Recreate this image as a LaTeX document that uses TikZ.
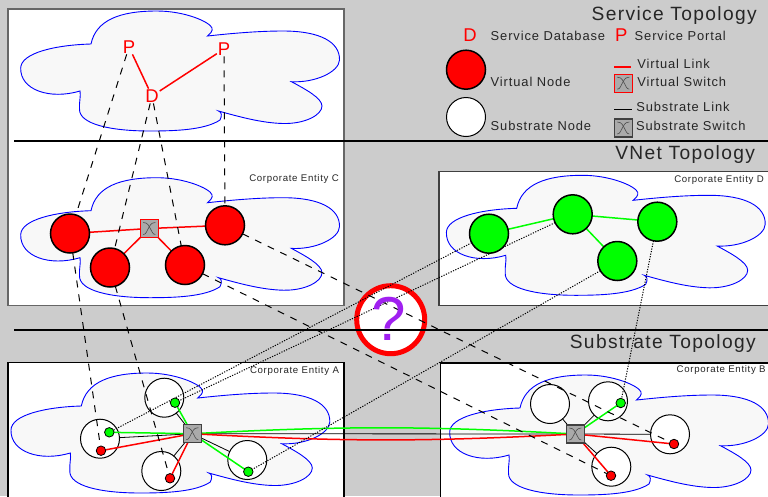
\documentclass[tikz,border=0pt]{standalone}
\usepackage{fontspec}
\setmainfont[LetterSpace=7]{Liberation Sans}
\usetikzlibrary{backgrounds}
\pgfdeclarelayer{linklayer}
\pgfsetlayers{background,linklayer,main}
\definecolor{paneColor}{RGB}{204,204,204}
\definecolor{cloudColor}{RGB}{248,248,248}
\definecolor{switchColor}{RGB}{170,170,170}
\definecolor{purpleColor}{RGB}{160,32,240}
\tikzset{
  panel/.style={draw=#1,fill=white,line width=1.2pt},
  rule/.style={draw=black,line width=2pt},
  cloud/.style={draw=blue,fill=cloudColor,line width=0.9pt},
  vnode/.style={circle,draw=black,line width=1.5pt,fill=#1,minimum size=39pt,inner sep=0pt,outer sep=0pt},
  snode/.style={circle,draw=black,line width=1pt,fill=white,minimum size=39pt,inner sep=0pt,outer sep=0pt},
  slot/.style={circle,draw=black,line width=0.8pt,fill=#1,minimum size=9.5pt,inner sep=0pt,outer sep=0pt},
  switchbox/.style={rectangle,draw=#1,line width=1.3pt,fill=switchColor,minimum size=18pt,inner sep=0pt,outer sep=0pt,
    path picture={
      \draw[black!70,line width=0.6pt] ([xshift=-6pt,yshift=6pt]path picture bounding box.center)
        .. controls +(5pt,0pt) and +(-1.5pt,2pt) .. ([xshift=1pt]path picture bounding box.center)
        .. controls +(1.5pt,-2pt) and +(-3pt,0pt) .. ([xshift=6pt,yshift=-6pt]path picture bounding box.center);
      \draw[black!70,line width=0.6pt] ([xshift=6pt,yshift=6pt]path picture bounding box.center)
        .. controls +(-5pt,0pt) and +(1.5pt,2pt) .. ([xshift=-1pt]path picture bounding box.center)
        .. controls +(-1.5pt,-2pt) and +(3pt,0pt) .. ([xshift=-6pt,yshift=-6pt]path picture bounding box.center);
    }},
  service/.style={text=red,font=\fontsize{18.5}{18.5}\selectfont,inner sep=1pt,outer sep=0pt},
  title/.style={anchor=base east,inner sep=0pt,outer sep=0pt,text=black!85,font=\fontsize{19.2}{20}\selectfont},
  legend/.style={anchor=base west,inner sep=0pt,outer sep=0pt,text=black!85,font=\fontsize{12.9}{14}\selectfont},
  entity/.style={anchor=base west,inner sep=0pt,outer sep=0pt,text=black!85,font=\fontsize{9.65}{11}\selectfont},
  vlink/.style={draw=red,line width=1.5pt},
  glink/.style={draw=green,line width=1.5pt},
  slink/.style={draw=black,line width=0.8pt},
  mapdash/.style={draw=black,line width=1pt,dash pattern=on 7pt off 7pt},
  mapdot/.style={draw=black,line width=1pt,dash pattern=on 1.2pt off 1.4pt},
}
\newcommand{\cloudshape}[2]{%
\begin{scope}[shift={(#1,#2)}]
\path[cloud] (91,44) .. controls (96,20) and (120,11) .. (157,11)
	.. controls (185,11) and (210,22) .. (212,28)
	.. controls (213,31) and (210,34) .. (207.5,36)
	.. controls (235,33) and (260,31) .. (283,31)
	.. controls (320,31) and (340,42) .. (339.5,60)
	.. controls (339,72) and (315,83) .. (291.5,81.7)
	.. controls (305,89) and (322,98) .. (322,106)
	.. controls (322,115) and (305,124) .. (283,123.5)
	.. controls (262,123) and (240,117) .. (218.5,111)
	.. controls (222,112) and (222,116) .. (220,120)
	.. controls (205,130) and (175,131) .. (150,131)
	.. controls (110,131) and (79,124) .. (79.5,109)
	.. controls (79,102) and (81,96) .. (80,91)
	.. controls (50,100) and (20,90) .. (20.7,68)
	.. controls (21,53) and (55,45) .. (91,44)
	-- cycle;
\end{scope}}
\begin{document}
\begin{tikzpicture}[x=1pt,y=-1pt]
\useasboundingbox (0,0) rectangle (768,496);

\begin{pgfonlayer}{background}
\path[fill=paneColor] (0,0) rectangle (768,496);
\path[panel=black!60] (8,9) rectangle (344,305.5);
\path[panel=black!75] (439,171.5) rectangle (770,305.5);
\path[panel=black] (8,362.5) rectangle (344,498);
\path[panel=black] (440.5,363) rectangle (770,498);
\cloudshape{0}{0}
\cloudshape{0}{166.7}
\cloudshape{425.7}{164.3}
\cloudshape{-9.7}{362}
\cloudshape{429}{364}
\node[circle,draw=red,line width=5pt,fill=white,minimum size=68pt,inner sep=0pt,outer sep=0pt] (unknown) at (390.7,319.7) {};

% substrate
\node[snode] (sa1) at (100,438.7) {};
\node[snode] (sa2) at (164.3,397.7) {};
\node[snode] (sa3) at (161.3,471) {};
\node[snode] (sa4) at (247.3,460) {};
\node[snode] (sb1) at (550,404) {};
\node[snode] (sb2) at (608,401.3) {};
\node[snode] (sb3) at (670,434.3) {};
\node[snode] (sb4) at (611.3,466.7) {};
\end{pgfonlayer}

% switches and slots
\node[switchbox=black!75] (swa) at (192.3,433.7) {};
\node[switchbox=black!75] (swb) at (575.3,434) {};
\node[switchbox=red] (swc) at (149.3,228.5) {};
\node[slot=green] (ga1) at (109.3,432.3) {};
\node[slot=red] (ra1) at (101,450.7) {};
\node[slot=green] (ga2) at (175,402.7) {};
\node[slot=red] (ra3) at (170,478.3) {};
\node[slot=green] (ga4) at (248.3,471.7) {};
\node[slot=green] (gb2) at (620.7,403) {};
\node[slot=red] (rb3) at (674,444) {};
\node[slot=red] (rb4) at (611,475.7) {};

% virtual nodes
\node[vnode=red] (c1) at (70,233.5) {};
\node[vnode=red] (c2) at (110,267.5) {};
\node[vnode=red] (c3) at (185,265) {};
\node[vnode=red] (c4) at (225,225.3) {};
\node[vnode=green] (d1) at (489,233.7) {};
\node[vnode=green] (d2) at (572.7,214.3) {};
\node[vnode=green] (d3) at (657.3,221.7) {};
\node[vnode=green] (d4) at (617.3,261) {};

% service
\node[service] (p1) at (129,47) {P};
\node[service] (p2) at (224,49) {P};
\node[service] (db) at (152,96) {D};

\begin{pgfonlayer}{linklayer}
\path[rule] (14,141) -- (768,141);
\path[rule] (14,330) -- (768,330);

\path[vlink] (p1) -- (db);
\path[vlink] (p2) -- (db);
\path[vlink] (c1) -- (swc);
\path[vlink] (c2) -- (swc);
\path[vlink] (c3) -- (swc);
\path[vlink] (c4) -- (swc);
\path[glink] (d1) -- (d2);
\path[glink] (d2) -- (d3);
\path[glink] (d2) -- (d4);

\path[slink] (sa1) -- (swa);
\path[slink] (sa2) -- (swa);
\path[slink] (sa3) -- (swa);
\path[slink] (sa4) -- (swa);
\path[slink] (swa) -- (swb);
\path[slink] (sb1) -- (swb);
\path[slink] (sb2) -- (swb);
\path[slink] (sb3) -- (swb);
\path[slink] (sb4) -- (swb);

\path[glink] (ga1) -- (swa);
\path[glink] (ga2) -- (swa);
\path[glink] (ga4) -- (swa);
\path[glink] (gb2) -- (swb);
\path[vlink] (ra1) -- (swa);
\path[vlink] (ra3) -- (swa);
\path[vlink] (rb3) -- (swb);
\path[vlink] (rb4) -- (swb);
\path[glink] (swa) to[bend left=3] (swb);
\path[vlink] (swa) to[bend right=3] (swb);

\path[mapdash] (p1) -- (c1);
\path[mapdash] (db) -- (c2);
\path[mapdash] (db) -- (c3);
\path[mapdash] (p2) -- (c4);
\path[mapdash] (c1) -- (ra1);
\path[mapdash] (c2) -- (ra3);
\path[mapdash] (c3) -- (rb4);
\path[mapdash] (c4) -- (rb3);
\path[mapdot] (d1) -- (ga1);
\path[mapdot] (d2) -- (ga2);
\path[mapdot] (d4) -- (ga4);
\path[mapdot] (d3) -- (gb2);
\end{pgfonlayer}

\node[text=purpleColor,inner sep=0pt,outer sep=0pt,font=\fontsize{62}{62}\selectfont] (mark) at (389,318.5) {?};

% titles
\node[title] (servicetitle) at (756.7,20.7) {Service Topology};
\node[title] (vnettitle) at (755,159) {VNet Topology};
\node[title] (substratetitle) at (755.7,348) {Substrate Topology};
\node[entity] (entc) at (249.3,181) {Corporate Entity C};
\node[entity] (entd) at (674.3,182) {Corporate Entity D};
\node[entity] (enta) at (250,373.3) {Corporate Entity A};
\node[entity] (entb) at (676.7,372) {Corporate Entity B};

% legend
\node[service] (legdb) at (470,35) {D};
\node[legend] (legdbtext) at (490.7,40) {Service Database};
\node[service] (legportal) at (621.3,34.7) {P};
\node[legend] (legportaltext) at (634.7,40) {Service Portal};
\node[vnode=red] (legvnode) at (466,69.7) {};
\node[legend] (legvnodetext) at (490.7,86) {Virtual Node};
\node[snode] (legsnode) at (466,117) {};
\node[legend] (legsnodetext) at (490.7,130) {Substrate Node};
\coordinate (legvlinka) at (614,67);
\coordinate (legvlinkb) at (631.3,67);
\path[vlink] (legvlinka) -- (legvlinkb);
\node[legend] (legvlinktext) at (637.3,68.7) {Virtual Link};
\node[switchbox=red] (legvswitch) at (623.3,83.2) {};
\node[legend] (legvswitchtext) at (637.3,86.7) {Virtual Switch};
\coordinate (legslinka) at (614,109.3);
\coordinate (legslinkb) at (632.3,109.3);
\path[slink] (legslinka) -- (legslinkb);
\node[legend] (legslinktext) at (636.3,111.7) {Substrate Link};
\node[switchbox=black!75] (legsswitch) at (623.3,128) {};
\node[legend] (legsswitchtext) at (636,130) {Substrate Switch};
\end{tikzpicture}
\end{document}
